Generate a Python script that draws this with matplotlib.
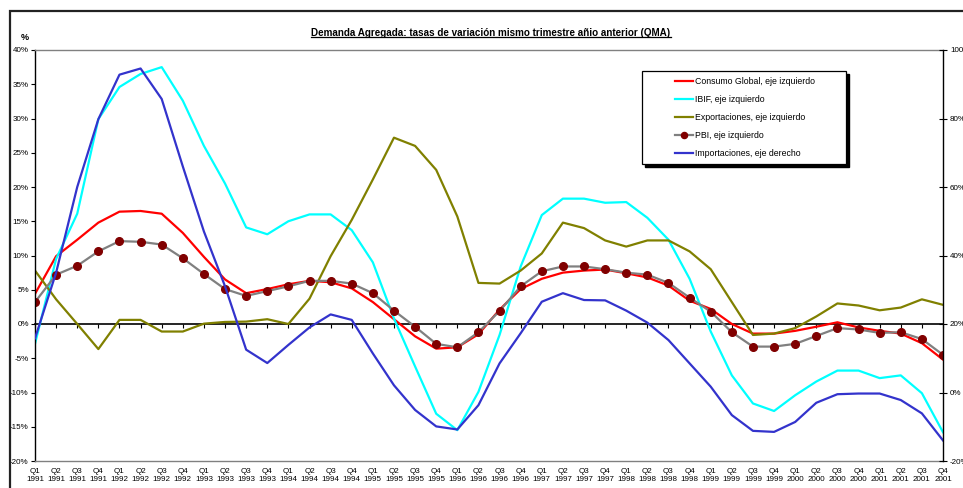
import numpy as np
import matplotlib.pyplot as plt
from matplotlib.patches import Rectangle
from matplotlib.lines import Line2D
from matplotlib.ticker import FuncFormatter

plt.rcParams['font.family'] = ['Liberation Sans', 'DejaVu Sans']

# quarters Q1 1991 .. Q4 2001
years = ["1991", "1992", "1993", "1994", "1995", "1996",
         "1997", "1998", "1999", "2000", "2001"]
quarters = ["Q1", "Q2", "Q3", "Q4"]
labels = [q + "\n" + y for y in years for q in quarters]

# left axis series (%)
consumo = [4.4, 9.9, 12.3, 14.8, 16.4, 16.5, 16.1, 13.3, 9.8, 6.5, 4.5, 5.1,
           5.8, 6.3, 6.1, 5.2, 3.2, 0.7, -1.8, -3.6, -3.4, -1.5, 2.1, 5.1,
           6.6, 7.5, 7.8, 7.95, 7.4, 6.8, 5.6, 3.4, 2.2, 0.0, -1.4, -1.4,
           -1.0, -0.4, 0.25, -0.5, -1.0, -1.4, -2.8, -5.2]
ibif = [-2.9, 9.5, 16.1, 29.9, 34.6, 36.5, 37.5, 32.6, 26.0, 20.5, 14.1, 13.1,
        15.0, 16.0, 16.0, 13.7, 9.0, 0.8, -6.2, -13.1, -15.5, -9.9, -1.6, 8.4,
        15.9, 18.3, 18.3, 17.7, 17.8, 15.5, 12.3, 6.6, -1.1, -7.5, -11.6, -12.7,
        -10.4, -8.4, -6.8, -6.8, -7.9, -7.5, -10.1, -15.8]
export = [7.8, 3.6, 0.0, -3.66, 0.6, 0.6, -1.1, -1.1, 0.05, 0.3, 0.35, 0.7,
          0.0, 3.7, 9.9, 15.2, 21.1, 27.2, 26.0, 22.5, 15.7, 6.0, 5.9, 7.8,
          10.3, 14.8, 14.0, 12.2, 11.3, 12.2, 12.2, 10.6, 8.0, 3.2, -1.6, -1.4,
          -0.6, 1.1, 3.0, 2.7, 2.0, 2.4, 3.6, 2.8]
pbi = [3.2, 7.2, 8.5, 10.6, 12.1, 12.0, 11.6, 9.6, 7.3, 5.1, 4.1, 4.8,
       5.5, 6.3, 6.3, 5.9, 4.5, 1.95, -0.4, -2.9, -3.4, -1.2, 1.9, 5.5,
       7.7, 8.4, 8.4, 8.0, 7.5, 7.2, 6.0, 3.85, 1.8, -1.2, -3.3, -3.3,
       -2.9, -1.75, -0.6, -0.8, -1.3, -1.2, -2.2, -4.5]
# right axis series (%)
importaciones = [15.8, 35.0, 60.0, 79.8, 92.8, 94.6, 85.7, 66.0, 47.0, 31.0, 12.5, 8.6,
                 13.9, 19.0, 22.8, 21.2, 11.4, 2.1, -5.1, -9.9, -10.8, -3.7, 8.5, 17.3,
                 26.5, 29.0, 27.0, 26.9, 23.9, 20.4, 15.3, 8.5, 1.7, -6.6, -11.2, -11.5,
                 -8.6, -3.0, -0.5, -0.3, -0.3, -2.2, -6.1, -14.0]

W, H = 963, 488
fig = plt.figure(figsize=(W / 100, H / 100), dpi=100)
ax = fig.add_axes([35 / W, 27 / H, 908 / W, 411 / H])
x = np.arange(len(labels))

lw = 1.6
ax.plot(x, consumo, color='#FF0000', lw=lw, label='Consumo Global, eje izquierdo')
ax.plot(x, ibif, color='#00FFFF', lw=lw, label='IBIF, eje izquierdo')
ax.plot(x, export, color='#808000', lw=lw, label='Exportaciones, eje izquierdo')
ax.plot(x, pbi, color='#808080', lw=lw, marker='o', ms=5.5,
        mfc='#800000', mec='#800000', label='PBI, eje izquierdo')

ax2 = ax.twinx()
ax2.plot(x, importaciones, color='#3333CC', lw=lw, label='Importaciones, eje derecho')

pct = FuncFormatter(lambda v, p: f"{v:.0f}%")
fs = 5.8

ax.set_xlim(0, len(labels) - 1)
ax.set_ylim(-20, 40)
ax.set_yticks(np.arange(-20, 41, 5))
ax.yaxis.set_major_formatter(pct)
ax.set_xticks(x)
ax.set_xticklabels(labels, fontsize=fs, linespacing=1.25)
ax.tick_params(axis='x', length=0, pad=5)
ax.tick_params(axis='y', direction='out', length=3, width=0.8, labelsize=fs, pad=1.5)
for s in ('top', 'bottom'):
    ax.spines[s].set_color('#808080')
    ax.spines[s].set_linewidth(1)
ax.spines['left'].set_linewidth(1)
ax.spines['right'].set_visible(False)

ax2.set_ylim(-20, 100)
ax2.set_yticks(np.arange(-20, 101, 20))
ax2.yaxis.set_major_formatter(pct)
ax2.tick_params(axis='y', direction='inout', length=6, width=0.8, labelsize=fs, pad=2)
for s in ('top', 'bottom', 'left'):
    ax2.spines[s].set_visible(False)
ax2.spines['right'].set_linewidth(1)

# category axis crossing at 0 on the left scale
zero = ax.secondary_xaxis(1 / 3)
zero.set_xticks(x)
zero.set_xticklabels([])
zero.tick_params(direction='out', length=3, width=0.8)
for s in zero.spines.values():
    s.set_linewidth(1.2)
    s.set_color('black')

# outer chart frame
fig.add_artist(Rectangle((10 / W, -0.1), 1.0, (H - 11) / H + 0.1, fill=False,
                         lw=1.6, edgecolor='#222222', transform=fig.transFigure))

title = fig.text(491 / W, 1 - 33 / H,
                 "Demanda Agregada: tasas de variación mismo trimestre añio anterior (QMA)",
                 ha='center', va='center', fontsize=7.1, fontweight='bold')
fig.text(25 / W, 1 - 37 / H, "%", ha='center', va='center', fontsize=6.5,
         fontweight='bold')

# legend box with hard shadow
lx0, ly0, lx1, ly1 = 642, 71, 846, 164
fig.add_artist(Rectangle(((lx0 + 3) / W, 1 - (ly1 + 3) / H), (lx1 - lx0) / W,
                         (ly1 - ly0) / H, facecolor='black', edgecolor='black',
                         transform=fig.transFigure, zorder=3))
fig.add_artist(Rectangle((lx0 / W, 1 - ly1 / H), (lx1 - lx0) / W, (ly1 - ly0) / H,
                         facecolor='white', edgecolor='black', lw=0.9,
                         transform=fig.transFigure, zorder=3.1))
h1, l1 = ax.get_legend_handles_labels()
h2, l2 = ax2.get_legend_handles_labels()
leg = fig.legend(h1 + h2, l1 + l2, loc='upper left',
                 bbox_to_anchor=(675 / W, 1 - 77 / H), frameon=False,
                 fontsize=6.3, handlelength=2.0, handletextpad=0.3,
                 labelspacing=1.04, borderpad=0, borderaxespad=0, markerscale=0.8)
leg.set_zorder(4)

# underline the title
fig.canvas.draw()
bb = title.get_window_extent().transformed(fig.transFigure.inverted())
fig.add_artist(Line2D([bb.x0, bb.x1], [bb.y0 + 0.002, bb.y0 + 0.002],
                      transform=fig.transFigure, color='black', lw=0.9))

fig.savefig('out.png', dpi=100)
